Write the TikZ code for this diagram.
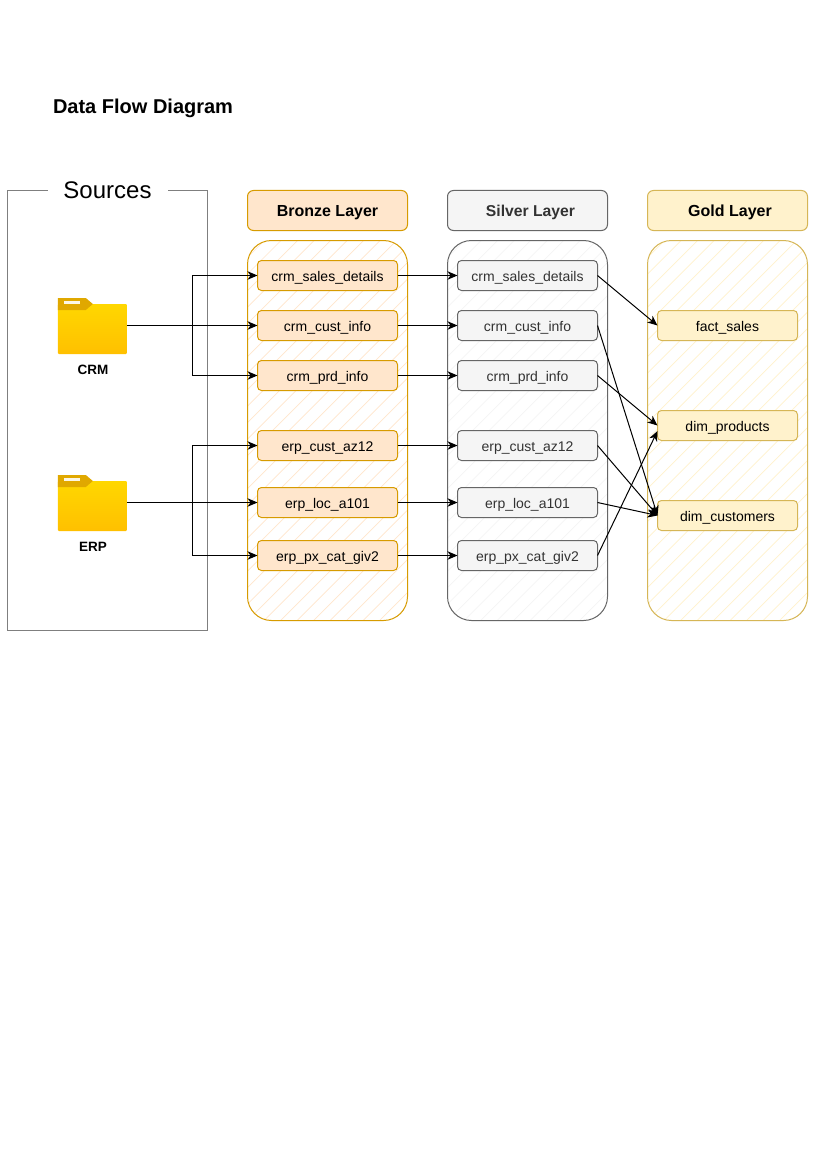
\documentclass[tikz,border=0pt]{standalone}
\usepackage{fontspec}
\setmainfont{Liberation Sans}
\usetikzlibrary{arrows.meta}
\definecolor{bronzeF}{HTML}{FFE6CC}\definecolor{bronzeD}{HTML}{D79B00}
\definecolor{silverF}{HTML}{F5F5F5}\definecolor{silverD}{HTML}{666666}\definecolor{silverT}{HTML}{333333}
\definecolor{goldF}{HTML}{FFF2CC}\definecolor{goldD}{HTML}{D6B656}
\definecolor{srcD}{HTML}{7F7F7F}
\definecolor{folderTab}{HTML}{E0A800}\definecolor{folderTop}{HTML}{FFD700}\definecolor{folderBot}{HTML}{FFC000}
\tikzset{
  x=1pt,y=-1pt,
  every node/.style={inner sep=0pt,outer sep=0pt},
  layerhead/.style={draw=#1,line width=1pt,rounded corners=6pt,minimum width=160pt,minimum height=40pt,text height=12.5pt,text depth=0pt,font=\fontsize{16}{18}\selectfont\bfseries},
  item/.style={line width=1pt,rounded corners=4pt,minimum width=140pt,minimum height=30pt,text height=11pt,text depth=0pt,font=\fontsize{14}{16}\selectfont},
  bronzeitem/.style={item,draw=bronzeD,fill=bronzeF},
  silveritem/.style={item,draw=silverD,fill=silverF,text=silverT},
  golditem/.style={item,draw=goldD,fill=goldF},
  flow/.style={draw=black,line width=1pt,-{Stealth[length=10pt,width=8.5pt,inset=3pt]}},
  srclabel/.style={text height=10pt,text depth=0pt,font=\fontsize{13.5}{15}\selectfont\bfseries},
}
\newcommand{\hatchpanel}[6]{% x, y, width, height, border colour, hatch colour
  \begin{scope}
    \clip[rounded corners=24pt] (#1,#2) rectangle ++(#3,#4);
    \foreach \k in {0,16.5,...,640}{
      \draw[#6,line width=0.7pt] (#1-20+\k,#2+#4+20) -- ++(640,-640);
    }
    \foreach \k in {16.5,33,...,640}{
      \draw[#6,line width=0.7pt] (#1-20-\k,#2+#4+20) -- ++(640,-640);
    }
  \end{scope}
  \draw[#5,line width=1pt,rounded corners=24pt] (#1,#2) rectangle ++(#3,#4);
}
\begin{document}
\begin{tikzpicture}
\useasboundingbox (0,0) rectangle (827,1169);
\fill[white] (0,0) rectangle (827,1169);

\node[anchor=west,text height=14.4pt,text depth=0pt,font=\fontsize{20}{24}\selectfont\bfseries] (title) at (53,106.5) {Data Flow Diagram};

% Sources
\draw[srcD,line width=1pt] (7.5,190.5) rectangle (207.5,630.5);
\node[fill=white,minimum width=120pt,minimum height=22pt,text height=15.6pt,text depth=0pt,font=\fontsize{24}{28}\selectfont] (sources) at (107.5,191) {Sources};

% Panels
\hatchpanel{247.5}{240.5}{160}{380}{bronzeD}{bronzeF}
\hatchpanel{447.5}{240.5}{160}{380}{silverD}{silverF}
\hatchpanel{647.5}{240.5}{160}{380}{goldD}{goldF}

% Headers
\node[layerhead=bronzeD,fill=bronzeF] (hb) at (327.5,210.5) {Bronze Layer};
\node[layerhead=silverD,fill=silverF,text=silverT,font=\fontsize{15.7}{18}\selectfont\bfseries] (hs) at (527.5,210.5) {\hspace*{6pt}Silver Layer};
\node[layerhead=goldD,fill=goldF] (hg) at (727.5,210.5) {\hspace*{5pt}Gold Layer};

% Folders
\node (crm) at (92.3,326) [minimum width=69pt,minimum height=56pt] {};
\node (erp) at (92.3,503) [minimum width=69pt,minimum height=56pt] {};
\foreach \n in {crm,erp}{
  \begin{scope}[shift={(\n.north west)}]
    \shade[top color=folderTop,bottom color=folderBot,rounded corners=1pt] (0,6) rectangle (69,56);
    \fill[folderTab] (0,0) -- (28,0) -- (35,6) -- (28,12) -- (0,12) -- cycle;
    \fill[white!90!folderTab] (6,3) rectangle (22,6);
  \end{scope}
}
\node[srclabel] (crml) at (93,369) {CRM};
\node[srclabel] (erpl) at (93,546) {ERP};

% Bronze
\node[bronzeitem] (b1) at (327.5,275.5) {crm\_sales\_details};
\node[bronzeitem] (b2) at (327.5,325.5) {crm\_cust\_info};
\node[bronzeitem] (b3) at (327.5,375.5) {crm\_prd\_info};
\node[bronzeitem] (b4) at (327.5,445.5) {erp\_cust\_az12};
\node[bronzeitem] (b5) at (327.5,502.5) {erp\_loc\_a101};
\node[bronzeitem] (b6) at (327.5,555.5) {erp\_px\_cat\_giv2};
% Silver
\node[silveritem] (s1) at (527.5,275.5) {crm\_sales\_details};
\node[silveritem] (s2) at (527.5,325.5) {crm\_cust\_info};
\node[silveritem] (s3) at (527.5,375.5) {crm\_prd\_info};
\node[silveritem] (s4) at (527.5,445.5) {erp\_cust\_az12};
\node[silveritem] (s5) at (527.5,502.5) {erp\_loc\_a101};
\node[silveritem] (s6) at (527.5,555.5) {erp\_px\_cat\_giv2};
% Gold
\node[golditem] (g1) at (727.5,325.5) {fact\_sales};
\node[golditem] (g2) at (727.5,425.5) {dim\_products};
\node[golditem] (g3) at (727.5,515.5) {dim\_customers};

% Flows
\coordinate (busc) at (192,325.5);
\coordinate (buse) at (192,502.5);
\coordinate (g2low) at (657.5,431);
\draw[flow] (crm.east |- b2) -- (b2);
\draw[flow] (busc) |- (b1);
\draw[flow] (busc) |- (b3);
\draw[flow] (erp.east |- b5) -- (b5);
\draw[flow] (buse) |- (b4);
\draw[flow] (buse) |- (b6);
\foreach \i in {1,...,6}{\draw[flow] (b\i) -- (s\i);}
\draw[flow] (s1.east) -- (g1.west);
\draw[flow] (s2.east) -- (g3.west);
\draw[flow] (s3.east) -- (g2.west);
\draw[flow] (s4.east) -- (g3.west);
\draw[flow] (s5.east) -- (g3.west);
\draw[flow] (s6.east) -- (g2low);
\end{tikzpicture}
\end{document}
